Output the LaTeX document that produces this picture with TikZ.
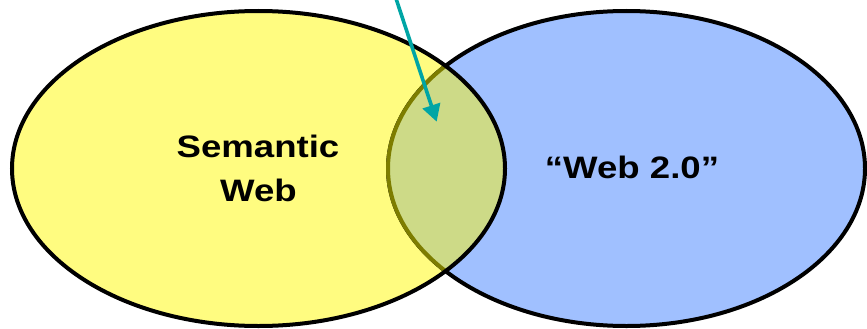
\documentclass[tikz,border=0pt]{standalone}
\usepackage{fontspec}
\setmainfont{Liberation Sans}
\usetikzlibrary{arrows.meta}
\definecolor{venyellow}{RGB}{255,252,128}
\definecolor{venblue}{RGB}{160,192,255}
\definecolor{venlens}{RGB}{205,218,135}
\definecolor{venolive}{RGB}{125,125,0}
\definecolor{venteal}{RGB}{0,165,165}
\tikzset{
  outline/.style={line width=4pt},
  label/.style={font=\fontsize{31}{44}\selectfont\bfseries, align=center, inner sep=0pt, anchor=base},
  pointer/.style={venteal, line width=3.6pt, -{Triangle[length=17pt,width=18pt]}}
}
\newcommand{\stretchtext}[1]{\scalebox{1.18}[1]{#1}}
\begin{document}
\begin{tikzpicture}[x=1pt,y=-1pt]
\useasboundingbox (0,0) rectangle (867,329);
\def\yellowpath{(258.5,168.5) ellipse [x radius=246.5, y radius=157.5]}
\def\bluepath{(626.5,168.5) ellipse [x radius=238.5, y radius=157.5]}
\fill[venyellow] \yellowpath;
\fill[venblue] \bluepath;
\draw[outline] \bluepath;
\begin{scope}
  \clip \yellowpath;
  \fill[venlens] \bluepath;
  \draw[outline, venolive] \bluepath;
\end{scope}
\draw[outline] \yellowpath;
\node[label] (sem) at (258,157) {\stretchtext{Semantic}};
\node[label] (web) at (258.5,201) {\stretchtext{Web}};
\node[label] (w20) at (632,178) {\stretchtext{“Web 2.0”}};
\coordinate (src) at (395.5,-3);
\coordinate (tip) at (436.7,121.7);
\draw[pointer] (src) -- (tip);
\end{tikzpicture}
\end{document}
